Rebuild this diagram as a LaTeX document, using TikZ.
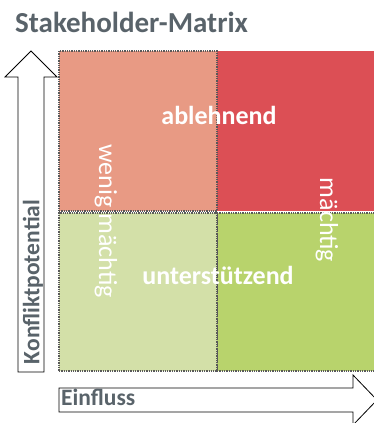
\documentclass[tikz,border=0pt]{standalone}
\usepackage{fontspec}
\setmainfont{Carlito}

\definecolor{titelgrau}{HTML}{59636A}
\definecolor{rot}{HTML}{DC4F55}
\definecolor{lachs}{HTML}{E89A84}
\definecolor{hellgruen}{HTML}{D3E0A8}
\definecolor{gruen}{HTML}{B8D36C}

\tikzset{
	feld/.style={anchor=north west, inner sep=0pt, outer sep=0pt, minimum width=158pt, minimum height=160pt},
	rand/.style={draw=black!65, densely dotted, line width=1.3pt},
	blockpfeil/.style={draw=black, line width=0.8pt, fill=white},
	achse/.style={font=\bfseries\fontsize{23.5}{24}\selectfont, text=titelgrau, inner sep=0pt},
	feldtext/.style={font=\bfseries\fontsize{26}{28}\selectfont, text=white, inner sep=0pt},
	seitentext/.style={font=\fontsize{26}{28}\selectfont, text=white, inner sep=0pt},
}

\begin{document}
\begin{tikzpicture}[x=1pt, y=-1pt]
	\useasboundingbox (0,0) rectangle (374,423);
	\clip (0,0) rectangle (374,423);

	\node at (15,32) [anchor=base west, inner sep=0pt, text=titelgrau, font=\bfseries\fontsize{29}{30}\selectfont] (titel) {Stakeholder-Matrix};

	% Felder
	\node at (217,51)  [feld, fill=rot, minimum width=170pt] (ro) {};
	\node at (217,213) [feld, fill=gruen, rand, minimum width=170pt, minimum height=158pt] (ru) {};
	\node at (59,51)   [feld, fill=lachs, rand] (lo) {};
	\node at (59,213)  [feld, fill=hellgruen, rand, minimum height=158pt] (lu) {};

	\node at (219,124) [feldtext, anchor=base] (ablehnend) {ablehnend};
	\node at (218,284) [feldtext, anchor=base] (unterstuetzend) {unterstützend};
	\node at (106,221) [seitentext, rotate=-90] (wenig) {wenig mächtig};
	\node at (327,220) [seitentext, rotate=-90] (maechtig) {mächtig};

	% Achsen
	\draw[blockpfeil] (18,372) -- (18,77) -- (5,77) -- (31,51) -- (57,77) -- (44,77) -- (44,372) -- cycle;
	\draw[blockpfeil] (59,388) -- (353,388) -- (353,375) -- (377,400) -- (353,425) -- (353,412) -- (59,412) -- cycle;

	\node at (33,282) [achse, rotate=90] (konflikt) {Konfliktpotential};
	\node at (61,405) [achse, anchor=base west] (einfluss) {Einfluss};
\end{tikzpicture}
\end{document}
